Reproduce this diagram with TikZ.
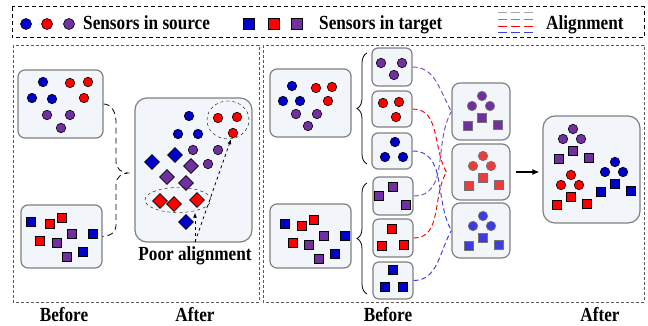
\documentclass[tikz,border=0pt]{standalone}
\usepackage{fontspec}
\setmainfont[FakeStretch=0.86]{Liberation Serif}
\usepackage{tikz}
\usetikzlibrary{shapes.geometric,arrows.meta,decorations.pathreplacing}

\definecolor{sBlue}{RGB}{0,0,204}
\definecolor{sRed}{RGB}{255,0,0}
\definecolor{sPurple}{RGB}{112,48,160}
\definecolor{mBlue}{RGB}{60,60,225}
\definecolor{mRed}{RGB}{235,60,60}
\definecolor{lPurple}{RGB}{130,75,185}
\definecolor{boxFill}{RGB}{242,245,250}
\definecolor{boxLine}{RGB}{128,128,128}

\tikzset{
  sdot/.style={circle, draw=black, line width=0.6pt, fill=#1, minimum size=9.5pt, inner sep=0pt},
  ssq/.style={rectangle, draw=black, line width=0.6pt, fill=#1, minimum size=8.5pt, inner sep=0pt},
  sdia/.style={diamond, draw=black, line width=0.6pt, fill=#1, minimum size=15pt, inner sep=0pt},
  panel/.style={rectangle, rounded corners=#1, draw=boxLine, line width=1.2pt, fill=boxFill, inner sep=0pt},
  panel/.default=7pt,
  dframe/.style={draw=black!65, dash pattern=on 3pt off 2pt, line width=0.8pt},
  alink/.style={dash pattern=on 5pt off 3pt, line width=0.95pt},
  lbl/.style={font=\fontsize{20}{23}\selectfont\bfseries, inner sep=0pt},
}

\begin{document}
\begin{tikzpicture}[x=1pt, y=-1pt]
  \useasboundingbox (0,0) rectangle (648,326);

  % legend
  \draw[black, dash pattern=on 4pt off 3pt, line width=1pt] (12,7) rectangle (644,38);
  \foreach \px/\cl [count=\i] in {26/sBlue, 47/sRed, 69/sPurple}
    \node[sdot=\cl, minimum size=11pt] (lc\i) at (\px,24) {};
  \node[lbl, anchor=base west] (lsrc) at (83,29.5) {Sensors in source};
  \foreach \px/\cl [count=\i] in {249/sBlue, 274/sRed, 297/sPurple}
    \node[ssq=\cl, minimum size=11pt] (lq\i) at (\px,24) {};
  \node[lbl, anchor=base west] (ltgt) at (319,29.5) {Sensors in target};
  \foreach \py/\cl in {12/gray!70, 19/lPurple!80, 26/sRed, 32/mBlue}
    \draw[\cl, dash pattern=on 9pt off 4pt, line width=0.9pt] (498,\py) -- (534,\py);
  \node[lbl, anchor=base west] (lali) at (546,29.5) {Alignment};

  % frames
  \draw[dframe] (13,45) rectangle (259,302);
  \draw[dframe] (263,45) rectangle (644,302);

  % left panel
  \node[panel, minimum width=85pt, minimum height=68pt] (srcL) at (60.5,104) {};
  \node[panel, minimum width=81pt, minimum height=63pt] (tgtL) at (61.5,236.5) {};
  \node[panel=12pt, minimum width=117pt, minimum height=144pt] (aftL) at (193.5,170) {};

  \foreach \px/\py/\cl [count=\i] in {43/82/sBlue, 70/83/sRed, 88/82/sRed, 32/98/sBlue, 52/99/sBlue,
      84/98/sRed, 47/115/sPurple, 70/115/sPurple, 61/128/sPurple}
    \node[sdot=\cl] (sa\i) at (\px,\py) {};
  \foreach \px/\py/\cl [count=\i] in {31/222/sBlue, 50/224/sRed, 62/218/sRed, 93/234/sBlue, 40/241/sRed,
      57/243/sPurple, 72/234/sPurple, 67/257/sPurple, 83/252/sBlue}
    \node[ssq=\cl] (ta\i) at (\px,\py) {};
  \foreach \px/\py/\cl [count=\i] in {189/116/sBlue, 178/134/sBlue, 198/134/sBlue, 218/118/sRed, 237/117/sRed,
      233/133/sRed, 193/150/sPurple, 218/150/sPurple, 208/164/sPurple}
    \node[sdot=\cl] (aa\i) at (\px,\py) {};
  \foreach \px/\py/\cl [count=\i] in {152/162/sBlue, 175/155/sBlue, 186/222/sBlue, 191/166/sPurple, 167/177/sPurple,
      186/183/sPurple, 160/201/sRed, 174/204/sRed, 197/200/sRed}
    \node[sdia=\cl] (ad\i) at (\px,\py) {};

  \node[ellipse, draw, dashed, minimum width=42pt, minimum height=38pt, inner sep=0pt] (ellR) at (228,120) {};
  \node[ellipse, draw, dashed, minimum width=66pt, minimum height=25pt, inner sep=0pt] (ellD) at (178,200) {};

  \coordinate (bTip) at (128,173);
  \draw[dash pattern=on 6pt off 4pt, line width=0.8pt] (srcL.east) to[out=0,in=90] (116,122) -- (116,162)
    to[out=-90,in=180] (bTip) to[out=180,in=90] (116,184) -- (116,226) to[out=-90,in=0] (tgtL.east);

  \node[lbl, anchor=base] (poor) at (195,260) {Poor alignment};
  \coordinate (pa) at ([yshift=4pt]poor.north);
  \draw[dashed, line width=0.8pt, -{Latex[length=5pt,width=4pt]}] (pa) -- (pa |- ellD.south);
  \draw[dashed, line width=0.8pt, -{Latex[length=5pt,width=4pt]}] (pa) -- ([xshift=3pt]ellR.south);

  % right panel
  \node[panel, minimum width=81pt, minimum height=68pt] (srcR) at (310.5,103) {};
  \node[panel, minimum width=81pt, minimum height=64pt] (tgtR) at (310.5,236) {};
  \foreach \px/\py/\cl [count=\i] in {292/86/sBlue, 316/88/sRed, 332/87/sRed, 283/101/sBlue, 300/101/sBlue,
      328/101/sRed, 296/114/sPurple, 317/114/sPurple, 308/126/sPurple}
    \node[sdot=\cl] (sb\i) at (\px,\py) {};
  \foreach \px/\py/\cl [count=\i] in {285/224/sBlue, 302/226/sRed, 314/220/sRed, 345/236/sBlue, 293/243/sRed,
      309/245/sPurple, 324/236/sPurple, 319/259/sPurple, 335/254/sBlue}
    \node[ssq=\cl] (tb\i) at (\px,\py) {};

  \draw[decorate, decoration={brace, amplitude=10pt}, line width=0.8pt] (367,164) -- (367,53);
  \draw[decorate, decoration={brace, amplitude=10pt}, line width=0.8pt] (367,294) -- (367,183);

  \node[panel=6pt, minimum width=40pt, minimum height=38pt] (b1) at (392,67) {};
  \node[panel=6pt, minimum width=40pt, minimum height=36pt] (b2) at (392,109) {};
  \node[panel=6pt, minimum width=40pt, minimum height=36pt] (b3) at (392,151) {};
  \node[panel=6pt, minimum width=40pt, minimum height=38pt] (b4) at (393,196) {};
  \node[panel=6pt, minimum width=40pt, minimum height=38pt] (b5) at (393,238) {};
  \node[panel=6pt, minimum width=40pt, minimum height=37pt] (b6) at (393,280.5) {};
  \foreach \px/\py/\cl [count=\i] in {381/63/sPurple, 402/63/sPurple, 394/75/sPurple, 383/103/sRed, 399/102/sRed,
      396/117/sRed, 395/142/sBlue, 385/157/sBlue, 403/157/sBlue}
    \node[sdot=\cl] (bc\i) at (\px,\py) {};
  \foreach \px/\py/\cl [count=\i] in {393/187/sPurple, 379/196/sPurple, 406/205/sPurple, 392/229/sRed, 382/246/sRed,
      404/245/sRed, 393/270/sBlue, 385/287/sBlue, 403/287/sBlue}
    \node[ssq=\cl] (bq\i) at (\px,\py) {};

  \node[panel=8pt, minimum width=58pt, minimum height=57pt] (mA) at (481,111.5) {};
  \node[panel=8pt, minimum width=58pt, minimum height=56pt] (mB) at (481,172) {};
  \node[panel=8pt, minimum width=58pt, minimum height=55pt] (mC) at (481,230.5) {};
  \node[panel=12pt, minimum width=97pt, minimum height=107pt] (fin) at (591.5,169.5) {};

  % groups: three dots over three squares
  \foreach \gx/\gy/\cl/\ol/\nm in {482/96/sPurple/black!55/ga, 483/156/mRed/black!55/gb, 483/216/mBlue/black!55/gc,
      573/129/sPurple/black/gd, 571/175/sRed/black/ge, 615/162/sBlue/black/gf} {
    \begin{scope}[shift={(\gx,\gy)}]
      \node[sdot=\cl, draw=\ol] (\nm c1) at (0,0) {};
      \node[sdot=\cl, draw=\ol] (\nm c2) at (-10,10) {};
      \node[sdot=\cl, draw=\ol] (\nm c3) at (8,10) {};
      \node[ssq=\cl, draw=\ol, minimum size=9pt] (\nm q1) at (0,22) {};
      \node[ssq=\cl, draw=\ol, minimum size=9pt] (\nm q2) at (-14,30) {};
      \node[ssq=\cl, draw=\ol, minimum size=9pt] (\nm q3) at (16,29) {};
    \end{scope}
  }

  % alignment
  \draw[alink, lPurple] (b1.east) to[out=0, in=120] (mA.west);
  \draw[alink, lPurple] (b4.east) to[out=0, in=-120] (mA.west);
  \coordinate (rTip) at ([xshift=-5pt]mB.west);
  \draw[alink, sRed] (b2.east) to[out=0, in=120] (rTip);
  \draw[alink, sRed] (b5.east) to[out=0, in=-120] (rTip);
  \draw[alink, mBlue] (b3.east) to[out=0, in=120] (mC.west);
  \draw[alink, mBlue] (b6.east) to[out=0, in=-120] (mC.west);

  \draw[line width=1.2pt, -{Latex[length=7pt,width=6pt]}] ([xshift=5pt]mB.east) -- ([xshift=-3pt]fin.west |- mB.east);

  % captions
  \node[lbl, anchor=base] (bef1) at (64,321) {Before};
  \node[lbl, anchor=base] (aft1) at (195,321) {After};
  \node[lbl, anchor=base] (bef2) at (388,321) {Before};
  \node[lbl, anchor=base] (aft2) at (600,321) {After};
\end{tikzpicture}
\end{document}
